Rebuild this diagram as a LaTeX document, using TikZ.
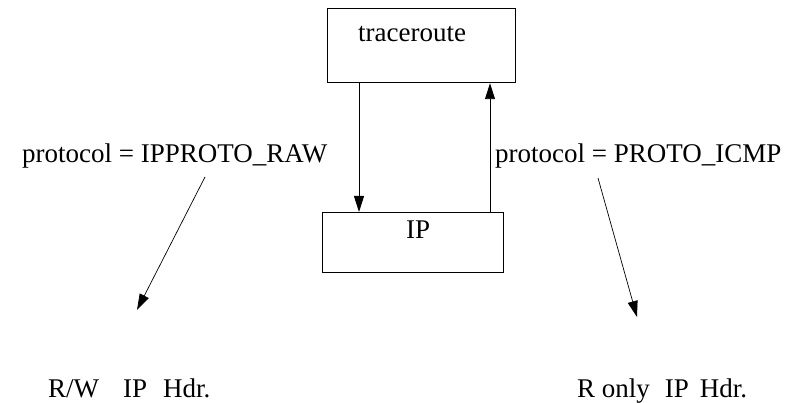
\documentclass[tikz,border=0pt]{standalone}
\usepackage{fontspec}
\setmainfont{Liberation Serif}
\usetikzlibrary{arrows.meta}
\begin{document}
\begin{tikzpicture}[x=1pt,y=-1pt,
  every node/.style={font=\fontsize{27}{32}\selectfont},
  lbl/.style={inner sep=0pt,anchor=base west},
  blk/.style={draw,line width=1.2pt,inner sep=0pt,anchor=north west},
  conn/.style={line width=0.9pt,-{Triangle[length=16pt,width=10pt]}},
  thin conn/.style={line width=0.7pt,-{Triangle[length=16pt,width=10pt]}}]
\useasboundingbox[fill=white] (0,0) rectangle (808,403);
% boxes
\node[blk,minimum width=188pt,minimum height=74pt] (tr) at (327,8) {};
\node[blk,minimum width=181pt,minimum height=60pt] (ip) at (322,212) {};
\node[lbl] (trt) at (358,42) {traceroute};
\node[lbl] (ipt) at (406,239) {IP};
% labels
\node[lbl] (raw) at (22,163) {protocol = IPPROTO\_RAW};
\node[lbl] (icmp) at (495,163) {protocol = PROTO\_ICMP};
\node[lbl] (rw) at (48,397) {R/W\hspace{24pt}IP\hspace{16pt}Hdr.};
\node[lbl] (ro) at (577,397) {R only\hspace{15pt}IP\hspace{11pt}Hdr.};
% vertical connectors between the boxes
\coordinate (dx) at (359,0);
\coordinate (ux) at (490,0);
\draw[conn] (tr.south -| dx) -- (ip.north -| dx);
\draw[conn] (ip.north -| ux) -- (tr.south -| ux);
% diagonal connectors
\coordinate (a1) at (205,177);
\coordinate (a2) at (137,310);
\coordinate (b1) at (598,178);
\coordinate (b2) at (637,317);
\draw[thin conn] (a1) -- (a2);
\draw[thin conn] (b1) -- (b2);
\end{tikzpicture}
\end{document}
